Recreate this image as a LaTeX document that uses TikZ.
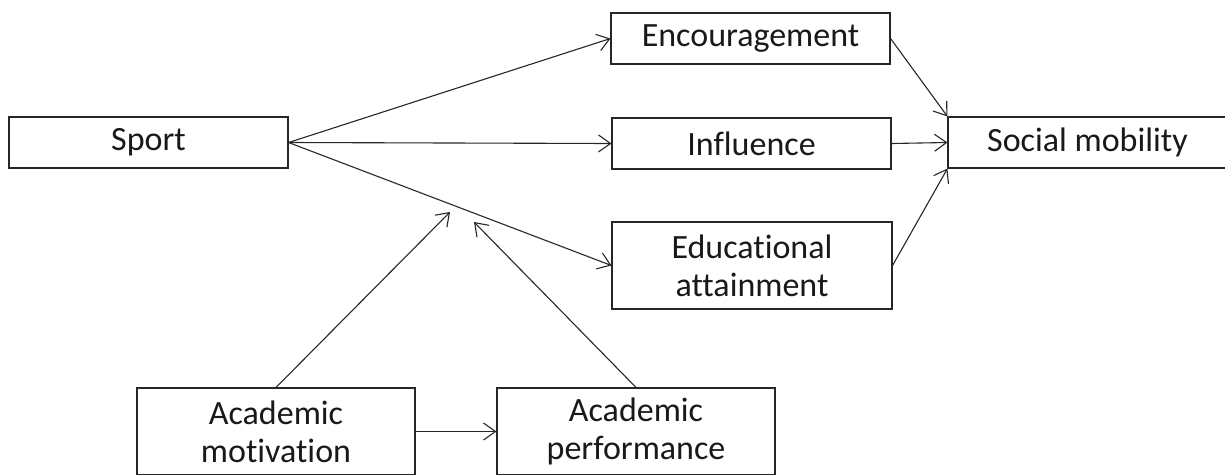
\documentclass[tikz,border=0pt]{standalone}
\usepackage{fontspec}
\setmainfont[Ligatures={NoCommon,NoContextual}]{Carlito}
\usetikzlibrary{arrows.meta}
\begin{document}
\begin{tikzpicture}[x=1pt,y=-1pt,
  box/.style={draw=black!85, line width=1.1pt, inner sep=0pt, align=center,
    font=\fontsize{34}{38}\selectfont, text=black!90},
  conn/.style={draw=black!85, line width=1.1pt,
    -{Straight Barb[length=12pt,width=17pt,line width=1.1pt]}}]
\useasboundingbox (0,0) rectangle (1225,474);
\node[box, minimum width=279pt, minimum height=51pt] (sport) at (148.5,142.5) {Sport};
\node[box, minimum width=279pt, minimum height=51pt] (enc) at (750.5,38.5) {Encouragement};
\node[box, minimum width=279pt, minimum height=51pt] (inf) at (751.5,143.5) {Influence};
\node[box, minimum width=280pt, minimum height=87pt] (edu) at (752,265.5) {Educational\\attainment};
\node[box, minimum width=279pt, minimum height=51pt] (soc) at (1087.5,142.5) {Social mobility};
\node[box, minimum width=278pt, minimum height=87pt] (mot) at (276,431.5) {Academic\\motivation};
\node[box, minimum width=278pt, minimum height=87pt] (perf) at (636,431.5) {Academic\\performance};
\coordinate (m1) at (450,212);
\coordinate (m2) at (474,222);
\draw[conn] (sport.east) -- (enc.west);
\draw[conn] (sport.east) -- (inf.west);
\draw[conn] (sport.east) -- (edu.west);
\draw[conn] (enc.east) -- (soc.north west);
\draw[conn] (inf.east) -- (soc.west);
\draw[conn] (edu.east) -- (soc.south west);
\draw[conn] (mot.north) -- (m1);
\draw[conn] (perf.north) -- (m2);
\draw[conn] (mot.east) -- (perf.west);
\end{tikzpicture}
\end{document}
